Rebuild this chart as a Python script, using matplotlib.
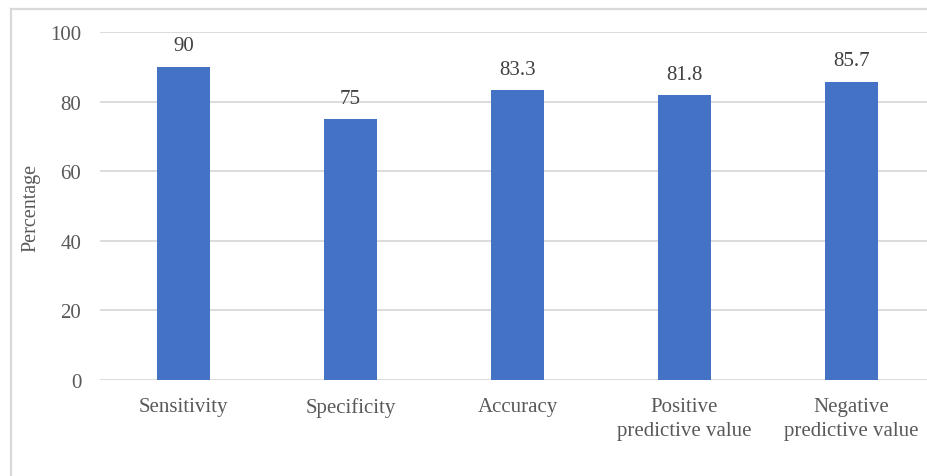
import matplotlib
matplotlib.use('Agg')
import matplotlib.pyplot as plt
from matplotlib.lines import Line2D

# chart data
categories = ['Sensitivity', 'Specificity', 'Accuracy',
              'Positive\npredictive value', 'Negative\npredictive value']
values = [90, 75, 83.3, 81.8, 85.7]
value_labels = ['90', '75', '83.3', '81.8', '85.7']
y_ticks = [0, 20, 40, 60, 80, 100]

plt.rcParams['font.family'] = ['Liberation Serif', 'DejaVu Serif']

fig = plt.figure(figsize=(9.27, 4.77), dpi=100)
W, H = 927, 477
ax = fig.add_axes([100 / W, 1 - 381 / H, 835 / W, 348 / H])

x = list(range(len(categories)))
bars = ax.bar(x, values, width=0.32, color='#4472C4', zorder=3)

for xi, v, lab in zip(x, values, value_labels):
    ax.text(xi, v + 3.3, lab, ha='center', va='bottom', fontsize=15, color='#404040')

ax.set_xlim(-0.5, len(categories) - 0.5)
ax.set_ylim(0, 100)
ax.set_yticks(y_ticks)
ax.set_xticks(x)
ax.set_xticklabels(categories, fontsize=15, color='#595959', linespacing=1.4)
ax.tick_params(axis='y', labelsize=15, labelcolor='#595959', length=0, pad=13.5)
ax.tick_params(axis='x', length=0, pad=12)
ax.yaxis.grid(True, color='#d9d9d9', linewidth=1.3, zorder=0)
for s in ax.spines.values():
    s.set_visible(False)

ax.set_ylabel('Percentage', fontsize=14.5, color='#595959')
ax.yaxis.set_label_coords(-(100 - 40) / 835, 0.497)

# outer chart border (left and top)
fig.add_artist(Line2D([11 / W, 11 / W], [0, 1 - 10 / H], color='#d9d9d9', linewidth=1.6))
fig.add_artist(Line2D([11 / W, 1], [1 - 10 / H, 1 - 10 / H], color='#d9d9d9', linewidth=1.6))

fig.savefig('out.png', dpi=100)
